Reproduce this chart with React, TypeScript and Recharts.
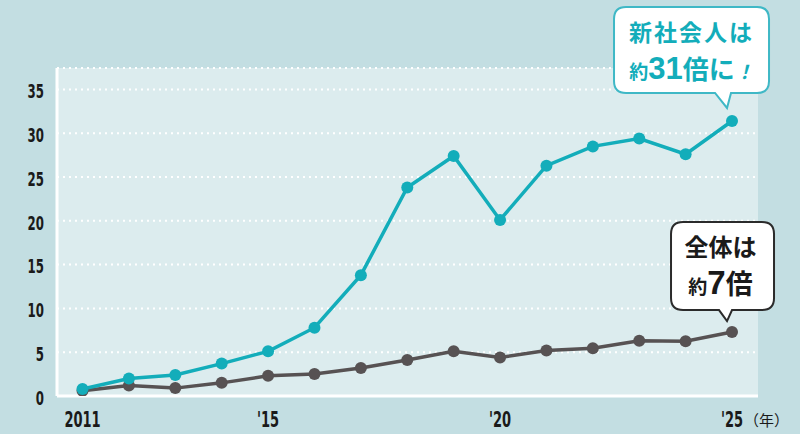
import { LineChart, Line, XAxis, YAxis, CartesianGrid, LabelList } from "recharts";

const years = [2011, 2012, 2013, 2014, 2015, 2016, 2017, 2018, 2019, 2020, 2021, 2022, 2023, 2024, 2025];
const newGrads = [0.8, 2.0, 2.4, 3.7, 5.1, 7.8, 13.8, 23.8, 27.4, 20.1, 26.3, 28.5, 29.4, 27.6, 31.4];
const overall = [0.6, 1.2, 0.9, 1.5, 2.3, 2.5, 3.2, 4.1, 5.1, 4.4, 5.2, 5.45, 6.3, 6.25, 7.3];
const xTicks = [2011, 2015, 2020, 2025];
const yTicks = [0, 5, 10, 15, 20, 25, 30, 35];

const data = years.map((year, i) => ({ year, newGrads: newGrads[i], overall: overall[i] }));

const TEAL = "#13adba";
const DARK = "#575253";
const BG = "#c3dee2";
const PANEL = "#dcecee";
const TICK_FONT = "'DejaVu Sans', sans-serif";
const JP_FONT = "'Noto Sans CJK JP', sans-serif";
const NUM_FONT = "'Liberation Sans', sans-serif";
const LAST = years.length - 1;
const SQUEEZE = 0.62; // 細い目盛り数字用の横圧縮

// x軸ラベル: 2011, '15, '20, '25（年）
const XTick = ({ x, y, payload }: any) => {
  const yr = payload.value;
  const label = yr === 2011 ? "2011" : "'" + String(yr).slice(2);
  return (
    <g>
      <text
        transform={`translate(${x},${y + 29}) scale(${SQUEEZE},1)`}
        textAnchor="middle"
        fontFamily={TICK_FONT}
        fontWeight={700}
        fontSize={21}
        fill="#1a1a1a"
      >
        {label}
      </text>
      {yr === 2025 && (
        <text x={x + 12} y={y + 28} textAnchor="start" fontFamily={JP_FONT} fontWeight={400} fontSize={15} fill="#1a1a1a">
          （年）
        </text>
      )}
    </g>
  );
};

const YTick = ({ x, y, payload }: any) => (
  <text
    transform={`translate(${x},${y + 2}) scale(${SQUEEZE},1)`}
    textAnchor="end"
    dy="0.36em"
    fontFamily={TICK_FONT}
    fontWeight={700}
    fontSize={19}
    fill="#1a1a1a"
  >
    {payload.value}
  </text>
);

// 吹き出し — 新社会人
const TealCallout = (props: any) => {
  const { x, y, index } = props;
  if (index !== LAST) return null;
  const l = x - 118, r = x + 37, t = y - 114, b = y - 28;
  const path = `M${l + 12},${t} H${r - 12} Q${r},${t} ${r},${t + 12} V${b - 12} Q${r},${b} ${r - 12},${b} H${x - 1} L${x - 5},${y - 13} L${x - 17},${b} H${l + 12} Q${l},${b} ${l},${b - 12} V${t + 12} Q${l},${t} ${l + 12},${t} Z`;
  const cx = (l + r) / 2;
  return (
    <g>
      <path d={path} fill="#fff" stroke="#3fb8c6" strokeWidth={2} />
      <text x={cx} y={t + 34} textAnchor="middle" fontFamily={JP_FONT} fontWeight={700} fontSize={23} letterSpacing={2} fill={TEAL}>
        新社会人は
      </text>
      <text x={cx} y={t + 72} textAnchor="middle" fontFamily={JP_FONT} fontWeight={700} fill={TEAL}>
        <tspan fontSize={19}>約</tspan>
        <tspan fontSize={31} fontFamily={NUM_FONT}>31</tspan>
        <tspan fontSize={26}>倍に</tspan>
        <tspan fontSize={19} fontStyle="italic">！</tspan>
      </text>
    </g>
  );
};

// 吹き出し — 全体
const DarkCallout = (props: any) => {
  const { x, y, index } = props;
  if (index !== LAST) return null;
  const l = x - 61, r = x + 42, t = y - 110, b = y - 22;
  const path = `M${l + 12},${t} H${r - 12} Q${r},${t} ${r},${t + 12} V${b - 12} Q${r},${b} ${r - 12},${b} H${x} L${x - 5},${y - 11} L${x - 13},${b} H${l + 12} Q${l},${b} ${l},${b - 12} V${t + 12} Q${l},${t} ${l + 12},${t} Z`;
  const cx = (l + r) / 2 - 2;
  return (
    <g>
      <path d={path} fill="#fff" stroke="#2b2b2b" strokeWidth={2} />
      <text x={cx} y={t + 34} textAnchor="middle" fontFamily={JP_FONT} fontWeight={700} fontSize={24} fill="#1a1a1a">
        全体は
      </text>
      <text x={cx} y={t + 72} textAnchor="middle" fontFamily={JP_FONT} fontWeight={700} fill="#1a1a1a">
        <tspan fontSize={19}>約</tspan>
        <tspan fontSize={33} fontFamily={NUM_FONT}>7</tspan>
        <tspan fontSize={27}>倍</tspan>
      </text>
    </g>
  );
};

export default function App() {
  return (
    <div style={{ position: "absolute", left: 0, top: 0, width: 800, height: 434, background: BG }}>
      <LineChart width={800} height={434} data={data} margin={{ top: 68, right: 42, bottom: 0, left: 0 }}>
        <CartesianGrid
          vertical={false}
          stroke="#ffffff"
          strokeWidth={2}
          strokeDasharray="2 4"
          fill={PANEL}
          fillOpacity={1}
        />
        <XAxis
          dataKey="year"
          type="number"
          domain={[2010.45, 2025.56]}
          ticks={xTicks}
          tick={<XTick />}
          tickLine={false}
          tickSize={0}
          height={38}
          axisLine={{ stroke: "#ffffff", strokeWidth: 3 }}
          allowDataOverflow
        />
        <YAxis
          domain={[0, 37.45]}
          ticks={yTicks}
          tickLine={false}
          tickSize={0}
          tickMargin={13}
          width={57}
          axisLine={{ stroke: "#ffffff", strokeWidth: 3 }}
          tick={<YTick />}
          allowDataOverflow
        />
        <Line
          dataKey="overall"
          stroke={DARK}
          strokeWidth={3.5}
          dot={{ r: 6, fill: DARK, stroke: DARK, strokeWidth: 0 }}
          isAnimationActive={false}
        >
          <LabelList dataKey="overall" content={<DarkCallout />} />
        </Line>
        <Line
          dataKey="newGrads"
          stroke={TEAL}
          strokeWidth={3.5}
          dot={{ r: 6, fill: TEAL, stroke: TEAL, strokeWidth: 0 }}
          isAnimationActive={false}
        >
          <LabelList dataKey="newGrads" content={<TealCallout />} />
        </Line>
      </LineChart>
    </div>
  );
}
